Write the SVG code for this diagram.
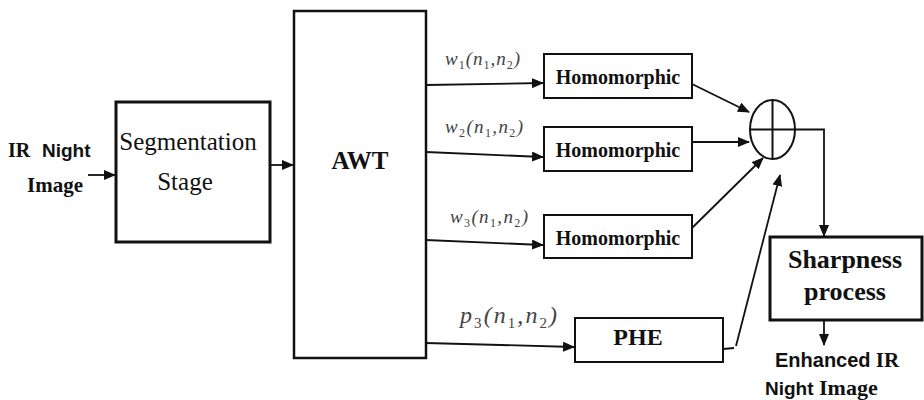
<svg xmlns="http://www.w3.org/2000/svg" width="924" height="400" viewBox="0 0 924 400">
<style>
.box{fill:#fff;stroke:#111;}
.ser{font-family:'Liberation Serif','DejaVu Serif',serif;fill:#111;}
.sans{font-family:'Liberation Sans','DejaVu Sans',sans-serif;fill:#111;font-weight:bold;}
.b{font-weight:bold;}
.lbl{font-family:'Liberation Serif','DejaVu Serif',serif;font-style:italic;fill:#444;}
.sub{font-style:normal;}
.ln{fill:none;stroke:#111;stroke-width:1.8;}
</style>
<defs>
<marker id="ah" markerUnits="userSpaceOnUse" markerWidth="12" markerHeight="10" refX="11" refY="5" orient="auto">
<path d="M0,0 L12,5 L0,10 Z" fill="#111"/>
</marker>
</defs>
<rect width="924" height="400" fill="#fff"/>
<g id="input">
<text class="ser b" x="8" y="157" font-size="20">IR</text>
<text class="sans" x="42" y="157" font-size="19">Night</text>
<text class="ser b" x="27" y="192" font-size="21">Image</text>
</g>
<g id="segmentation">
<rect class="box" x="116" y="102" width="154" height="140" stroke-width="3"/>
<text class="ser" x="188" y="150" font-size="25" text-anchor="middle">Segmentation</text>
<text class="ser" x="185" y="190" font-size="25" text-anchor="middle">Stage</text>
</g>
<g id="awt">
<rect class="box" x="294" y="11" width="132" height="347" stroke-width="2.5"/>
<text class="ser b" x="360" y="169" font-size="25" text-anchor="middle">AWT</text>
</g>
<g id="homo1">
<rect class="box" x="544" y="54" width="148" height="44" stroke-width="2"/>
<text class="ser b" x="618" y="84" font-size="20" text-anchor="middle">Homomorphic</text>
</g>
<g id="homo2">
<rect class="box" x="544" y="127" width="148" height="44" stroke-width="2"/>
<text class="ser b" x="618" y="157" font-size="20" text-anchor="middle">Homomorphic</text>
</g>
<g id="homo3">
<rect class="box" x="544" y="215" width="148" height="43" stroke-width="2"/>
<text class="ser b" x="618" y="245" font-size="20" text-anchor="middle">Homomorphic</text>
</g>
<g id="phe">
<rect class="box" x="575" y="318" width="148" height="44" stroke-width="2"/>
<text class="ser b" x="638" y="345" font-size="24" text-anchor="middle">PHE</text>
</g>
<g id="sum">
<ellipse cx="772.5" cy="129.5" rx="22.5" ry="29.5" fill="#fff" stroke="#111" stroke-width="2"/>
<line x1="772.5" y1="100" x2="772.5" y2="159" stroke="#111" stroke-width="2"/>
<line x1="750" y1="129.5" x2="795" y2="129.5" stroke="#111" stroke-width="2"/>
</g>
<g id="sharpness">
<rect class="box" x="770" y="237" width="152" height="83" stroke-width="3"/>
<text class="ser b" x="845" y="268" font-size="26" text-anchor="middle">Sharpness</text>
<text class="ser b" x="845" y="300" font-size="26" text-anchor="middle">process</text>
</g>
<g id="output">
<text x="775" y="367"><tspan class="sans" font-size="20">Enhanced</tspan><tspan class="ser b" font-size="21"> IR</tspan></text>
<text x="765" y="395"><tspan class="sans" font-size="19">Night</tspan><tspan class="ser b" font-size="22"> Image</tspan></text>
</g>
<g id="labels">
<text class="lbl" x="445" y="65" font-size="19" textLength="75">w<tspan class="sub" font-size="12" dy="4">1</tspan><tspan dy="-4">(n</tspan><tspan class="sub" font-size="12" dy="4">1</tspan><tspan dy="-4">,n</tspan><tspan class="sub" font-size="12" dy="4">2</tspan><tspan dy="-4">)</tspan></text>
<text class="lbl" x="445" y="133" font-size="19" textLength="78">w<tspan class="sub" font-size="12" dy="4">2</tspan><tspan dy="-4">(n</tspan><tspan class="sub" font-size="12" dy="4">1</tspan><tspan dy="-4">,n</tspan><tspan class="sub" font-size="12" dy="4">2</tspan><tspan dy="-4">)</tspan></text>
<text class="lbl" x="450" y="223" font-size="19" textLength="78">w<tspan class="sub" font-size="12" dy="4">3</tspan><tspan dy="-4">(n</tspan><tspan class="sub" font-size="12" dy="4">1</tspan><tspan dy="-4">,n</tspan><tspan class="sub" font-size="12" dy="4">2</tspan><tspan dy="-4">)</tspan></text>
<text class="lbl" x="460" y="323" font-size="24" textLength="97">p<tspan class="sub" font-size="15" dy="5">3</tspan><tspan dy="-5">(n</tspan><tspan class="sub" font-size="15" dy="5">1</tspan><tspan dy="-5">,n</tspan><tspan class="sub" font-size="15" dy="5">2</tspan><tspan dy="-5">)</tspan></text>
</g>
<g id="connectors">
<line class="ln" x1="88" y1="175" x2="115" y2="175" marker-end="url(#ah)"/>
<line class="ln" x1="270" y1="165" x2="293" y2="165" marker-end="url(#ah)"/>
<line class="ln" x1="426" y1="85" x2="543" y2="83" marker-end="url(#ah)"/>
<line class="ln" x1="426" y1="152" x2="543" y2="157" marker-end="url(#ah)"/>
<line class="ln" x1="426" y1="240" x2="543" y2="245" marker-end="url(#ah)"/>
<line class="ln" x1="426" y1="343" x2="574" y2="347" marker-end="url(#ah)"/>
<line class="ln" x1="692" y1="84" x2="749" y2="112" marker-end="url(#ah)"/>
<line class="ln" x1="692" y1="142" x2="749" y2="142" marker-end="url(#ah)"/>
<line class="ln" x1="692" y1="228" x2="763" y2="158" marker-end="url(#ah)"/>
<polyline class="ln" points="723,349 734,348" stroke-width="1.5"/>
<line class="ln" x1="736" y1="346" x2="780" y2="175" stroke-width="1.5" marker-end="url(#ah)"/>
<polyline class="ln" points="795,129.5 824,129.5 824,236" marker-end="url(#ah)"/>
<line class="ln" x1="824" y1="320" x2="824" y2="345" marker-end="url(#ah)"/>
</g>
</svg>
